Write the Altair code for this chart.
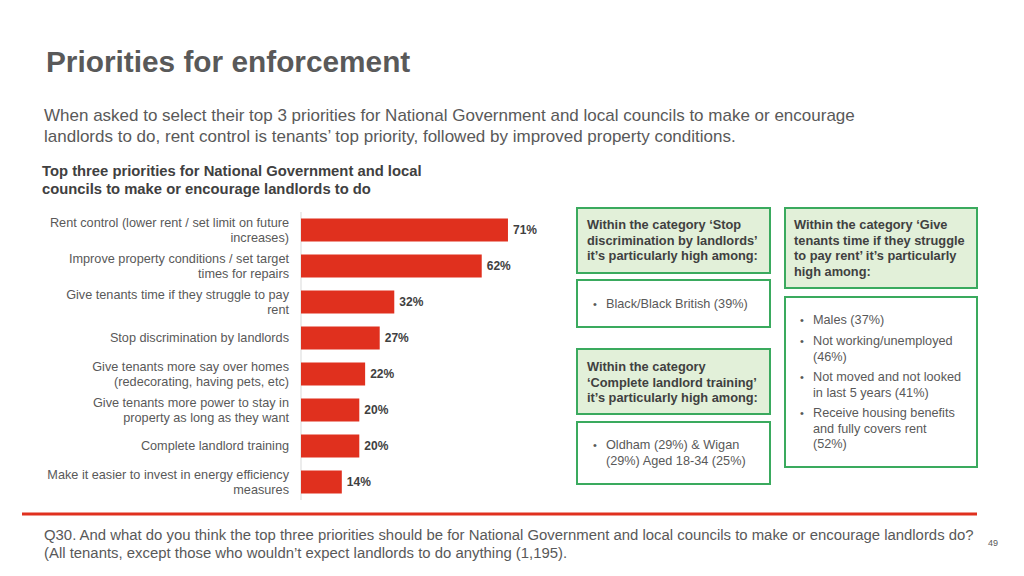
import altair as alt
import pandas as pd

# ---------------- data ----------------
categories = [
    "Rent control (lower rent / set limit on future\nincreases)",
    "Improve property conditions / set target\ntimes for repairs",
    "Give tenants time if they struggle to pay\nrent",
    "Stop discrimination by landlords",
    "Give tenants more say over homes\n(redecorating, having pets, etc)",
    "Give tenants more power to stay in\nproperty as long as they want",
    "Complete landlord training",
    "Make it easier to invest in energy efficiency\nmeasures",
]
values = [71, 62, 32, 27, 22, 20, 20, 14]

title_text = "Priorities for enforcement"
subtitle_lines = [
    "When asked to select their top 3 priorities for National Government and local councils to make or encourage",
    "landlords to do, rent control is tenants\u2019 top priority, followed by improved property conditions.",
]
chart_title_lines = [
    "Top three priorities for National Government and local",
    "councils to make or encourage landlords to do",
]
footer_lines = [
    "Q30. And what do you think the top three priorities should be for National Government and local councils to make or encourage landlords do?",
    "(All tenants, except those who wouldn\u2019t expect landlords to do anything (1,195).",
]
page_number = "49"

box1_header = ["Within the category \u2018Stop", "discrimination by landlords\u2019", "it\u2019s particularly high among:"]
box1_items = [["Black/Black British (39%)"]]
box2_header = ["Within the category", "\u2018Complete landlord training\u2019", "it\u2019s particularly high among:"]
box2_items = [["Oldham (29%) & Wigan", "(29%) Aged 18-34 (25%)"]]
box3_header = ["Within the category \u2018Give", "tenants time if they struggle", "to pay rent\u2019 it\u2019s particularly", "high among:"]
box3_items = [
    ["Males (37%)"],
    ["Not working/unemployed", "(46%)"],
    ["Not moved and not looked", "in last 5 years (41%)"],
    ["Receive housing benefits", "and fully covers rent", "(52%)"],
]

# ---------------- styling ----------------
FONT = "Liberation Sans"
GREY = "#595959"
DARK = "#404040"
RED = "#e0301e"
GREEN = "#3aaa5e"
LIGHT_GREEN = "#e2f0d9"
M = 8  # page margin offset
LH = 15

df = pd.DataFrame({"cat": categories, "value": values})
df["label"] = [f"{v}%" for v in values]
df["multi"] = ["\n" in c for c in categories]
one = pd.DataFrame({"k": [0]})

yscale = alt.Scale(range=[212 - M, 500 - M], paddingInner=0.36, paddingOuter=0.18)
xscale = alt.Scale(domain=[0, 100], range=[301 - M, 301 - M + 291.5])
Y = alt.Y("cat:N", sort=categories, scale=yscale, axis=None)

base = alt.Chart(df)
bars = base.mark_bar(color=RED).encode(
    y=Y,
    x=alt.X("value:Q", scale=xscale, axis=None),
)
vals = base.mark_text(align="left", baseline="middle", dx=5, font=FONT, fontSize=12,
                      fontWeight="bold", color=DARK).encode(
    y=Y,
    x=alt.X("value:Q", scale=xscale, axis=None),
    text="label:N",
)
cat_single = base.transform_filter("!datum.multi").mark_text(
    align="right", baseline="middle", font=FONT, fontSize=12.7, color=GREY).encode(
    y=Y, x=alt.value(289 - M), text="cat:N")
cat_multi = base.transform_filter("datum.multi").mark_text(
    align="right", baseline="middle", font=FONT, fontSize=12.7, color=GREY,
    lineBreak="\n", lineHeight=LH, dy=-LH / 2).encode(
    y=Y, x=alt.value(289 - M), text="cat:N")
axis_line = alt.Chart(one).mark_rule(color="#d9d9d9", strokeWidth=1).encode(
    x=alt.value(301 - M), y=alt.value(212 - M), y2=alt.value(500 - M)
)


def txt(lines, x, y, size, color=GREY, bold=False, lh=None, align="left"):
    props = dict(align=align, baseline="alphabetic", font=FONT, fontSize=size, color=color,
                 fontWeight="bold" if bold else "normal")
    if lh is not None:
        props["lineHeight"] = lh
    return alt.Chart(one).mark_text(**props).encode(
        x=alt.value(x - M), y=alt.value(y - M), text=alt.value(lines)
    )


def box(x1, y1, x2, y2, fill):
    return alt.Chart(one).mark_rect(fill=fill, stroke=GREEN, strokeWidth=2).encode(
        x=alt.value(x1 - M), x2=alt.value(x2 - M), y=alt.value(y1 - M), y2=alt.value(y2 - M)
    )


layers = [axis_line, bars, vals, cat_single, cat_multi]

# title texts
layers.append(txt(title_text, 46, 72, 29.8, GREY, bold=True))
layers.append(txt(subtitle_lines, 44, 121, 17, GREY, lh=21))
layers.append(txt(chart_title_lines, 42, 176, 14.8, DARK, bold=True, lh=18))
layers.append(txt(footer_lines, 44, 540, 14.9, GREY, lh=17.5))
layers.append(txt(page_number, 988, 546, 9, GREY))

# red divider line
layers.append(alt.Chart(one).mark_rule(color=RED, strokeWidth=3).encode(
    x=alt.value(22 - M), x2=alt.value(977 - M), y=alt.value(514 - M)))

# boxes
layers += [
    box(577, 208, 770, 273, LIGHT_GREEN),
    box(577, 280, 770, 327, "white"),
    box(577, 349, 770, 414, LIGHT_GREEN),
    box(577, 422, 770, 484, "white"),
    box(785, 208, 977, 288, LIGHT_GREEN),
    box(785, 297, 977, 467, "white"),
]

HS = 12.8
layers.append(txt(box1_header, 587, 229, HS, DARK, bold=True, lh=15.5))
layers.append(txt(box2_header, 587, 371, HS, DARK, bold=True, lh=15.5))
layers.append(txt(box3_header, 794, 229, HS, DARK, bold=True, lh=15.5))


def bullets(items, xb, xt, ys):
    out = []
    for item, y in zip(items, ys):
        out.append(txt("\u2022", xb, y, 11, GREY))
        out.append(txt(item, xt, y, 12.7, GREY, lh=15.5))
    return out


layers += bullets(box1_items, 593, 606, [308])
layers += bullets(box2_items, 593, 606, [449])
layers += bullets(box3_items, 800, 813, [324, 345, 381, 417])

chart = alt.layer(*layers).properties(
    width=1008, height=560, padding=0, autosize="none"
).configure_view(stroke=None)

chart.save("out.html", embed_options={"renderer": "svg", "actions": False})
